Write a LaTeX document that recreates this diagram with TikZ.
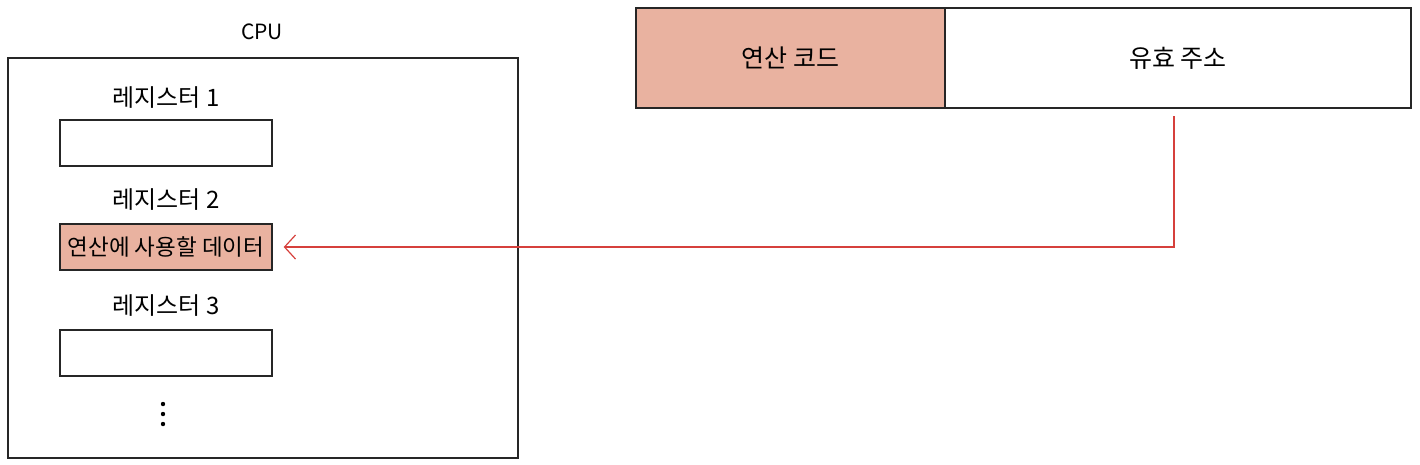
\documentclass[tikz,border=0pt]{standalone}
\usepackage{fontspec}
\setmainfont{Noto Sans CJK KR}
\usetikzlibrary{arrows.meta}
\definecolor{salmon}{RGB}{233,178,160}
\definecolor{linered}{RGB}{214,64,60}
\tikzset{
  regbox/.style={draw=black!85, line width=1.4pt, minimum width=212pt, minimum height=46pt, inner sep=0pt, font=\fontsize{22.5}{26}\selectfont},
  reglabel/.style={font=\fontsize{24}{28}\selectfont},
  fieldbox/.style={draw=black!85, line width=1.6pt, minimum height=100pt, inner sep=0pt, font=\fontsize{25}{28}\selectfont},
  arrowline/.style={draw=linered, line width=1.2pt, -{Straight Barb[length=11pt,width=24pt,line width=1.2pt]}}
}
\begin{document}
\begin{tikzpicture}[x=1pt,y=-1pt]
			%%%%% START %%%%%
			\useasboundingbox (0,0) rectangle (1420,464);
			
			\node[font=\fontsize{21}{24}\selectfont] (cpulabel) at (262, 32) {CPU};
			\node[draw=black!85, line width=1.4pt, minimum width=510pt, minimum height=400pt, inner sep=0pt] (cpu) at (263, 258) {};
			
			\node[reglabel] (reg1label) at (166, 98) {레지스터 1};
			\node[regbox] (reg1) at (166, 143) {};
			
			\node[reglabel] (reg2label) at (166, 200) {레지스터 2};
			\node[regbox, fill=salmon] (reg2) at (166, 247) {연산에 사용할 데이터};
			
			\node[reglabel] (reg3label) at (166, 306) {레지스터 3};
			\node[regbox] (reg3) at (166, 353) {};
			
			\fill (163, 404) circle (2.2);
			\fill (163, 414) circle (2.2);
			\fill (163, 424) circle (2.2);
			
			\node[fieldbox, fill=salmon, minimum width=309pt] (opcode) at (790.5, 58) {연산 코드};
			\node[fieldbox, minimum width=466pt] (addr) at (1178, 58) {유효 주소};
			
			\coordinate (addrout) at (1174, 116);
			\draw[arrowline, shorten >=11pt] (addrout) |- (reg2.east);
			
			%%%%% END %%%%%
\end{tikzpicture}
\end{document}
